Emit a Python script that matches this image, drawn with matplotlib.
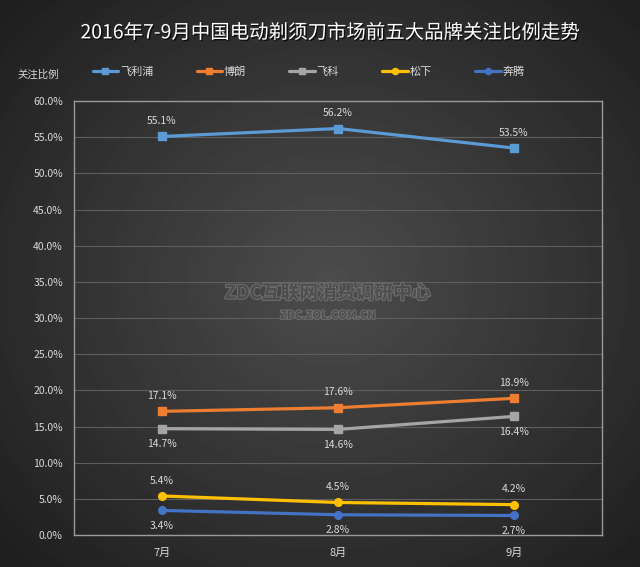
import numpy as np
import matplotlib
matplotlib.use("Agg")
import matplotlib.pyplot as plt
import matplotlib.patheffects as pe

plt.rcParams['font.family'] = ['Noto Sans CJK SC', 'DejaVu Sans']

months = ['7月', '8月', '9月']
brands = ['飞利浦', '博朗', '飞科', '松下', '奔腾']
philips = [55.1, 56.2, 53.5]
braun = [17.1, 17.6, 18.9]
flyco = [14.7, 14.6, 16.4]
panasonic = [5.4, 4.5, 4.2]
povos = [3.4, 2.8, 2.7]

series = [philips, braun, flyco, panasonic, povos]
colors = ['#5B9BD5', '#ED7D31', '#A5A5A5', '#FFC000', '#4472C4']
markers = ['s', 's', 's', 'o', 'o']
label_pos = ['above', 'above', 'below', 'above', 'below']

fig = plt.figure(figsize=(6.4, 5.67), dpi=100)

# radial gradient background
bg = fig.add_axes([0, 0, 1, 1])
yy, xx = np.mgrid[0:567, 0:640]
r = np.sqrt(((xx - 330) / 420.0) ** 2 + ((yy - 280) / 380.0) ** 2)
shade = np.clip(0.30 - 0.17 * r, 0.12, 0.30)
bg.imshow(shade, cmap='gray', vmin=0, vmax=1, aspect='auto', extent=[0, 1, 0, 1])
bg.set_axis_off()

ax = fig.add_axes([0.1156, 0.0564, 0.825, 0.7654])
ax.set_facecolor('none')
x = np.arange(len(months)) + 0.5

for vals, c, m, pos, name in zip(series, colors, markers, label_pos, brands):
    v = np.array(vals)
    ax.plot(x, v, color=c, lw=2.3, marker=m, markersize=5.5, label=name, zorder=3,
            solid_capstyle='round')
    for xi, vi in zip(x, v):
        dy = 11 if pos == 'above' else -11
        ax.annotate('%.1f%%' % vi, (xi, vi), xytext=(0, dy), textcoords='offset points',
                    ha='center', va='center', fontsize=7.5, color='#d9d9d9')

ax.set_xlim(0, 3)
ax.set_ylim(0, 60)
ax.set_yticks(np.arange(0, 61, 5))
ax.set_yticklabels(['%.1f%%' % t for t in np.arange(0, 61, 5)])
ax.set_xticks(x)
ax.set_xticklabels(months)
ax.tick_params(axis='both', colors='#d9d9d9', labelsize=7.5, length=0)
ax.tick_params(axis='x', pad=9, labelsize=8)
ax.tick_params(axis='y', pad=8)
ax.grid(axis='y', color='#5e5e5e', lw=0.8)
ax.set_axisbelow(True)
for s in ax.spines.values():
    s.set_color('#9a9a9a')
    s.set_linewidth(1)

fig.text(0.517, 0.942, '2016年7-9月中国电动剃须刀市场前五大品牌关注比例走势', ha='center', va='center',
         fontsize=14, color='white',
         path_effects=[pe.withSimplePatchShadow(offset=(1, -1), shadow_rgbFace='black', alpha=0.7)])
fig.text(0.027, 0.868, '关注比例', fontsize=7.5, color='#d9d9d9', va='center')

ax.legend(loc='center left', bbox_to_anchor=(0.027, 1.067), ncol=5, frameon=False,
          fontsize=8, labelcolor='#d9d9d9', handlelength=2.3, columnspacing=3.9,
          handletextpad=0.15, borderaxespad=0, markerscale=0.8)

# watermark
wm = [pe.withStroke(linewidth=1.5, foreground='#6e6e6e')]
fig.text(0.512, 0.483, 'ZDC互联网消费调研中心', ha='center', va='center', fontsize=13.5,
         fontweight='bold', color='#4d4d4d', path_effects=wm)
fig.text(0.512, 0.444, 'ZDC.ZOL.COM.CN', ha='center', va='center', fontsize=8,
         fontweight='bold', color='#4d4d4d', path_effects=wm)

fig.savefig('out.png', dpi=100)
